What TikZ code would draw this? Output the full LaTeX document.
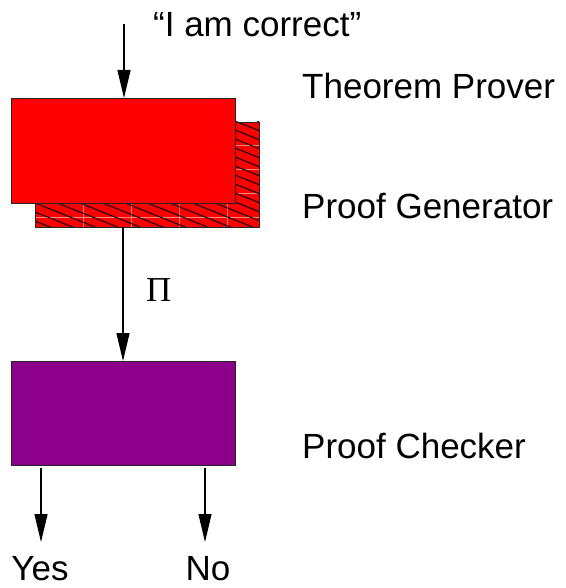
\documentclass[tikz,border=0pt]{standalone}
\usepackage{fontspec}
\setmainfont{Liberation Sans}
\newfontfamily\greekserif{Liberation Serif}
\usetikzlibrary{arrows.meta}
\definecolor{boxred}{RGB}{255,0,0}
\definecolor{boxpurple}{RGB}{139,0,139}
\definecolor{seam}{RGB}{255,130,130}
\tikzset{
  box/.style={draw=black!85, line width=0.9pt, minimum width=224pt, minimum height=105pt, inner sep=0pt, outer sep=0pt},
  arr/.style={line width=1.2pt, -{Triangle[length=28pt,width=13pt]}},
  lbl/.style={inner sep=0pt, anchor=base west, font=\fontsize{35}{40}\selectfont},
  cl/.style={inner sep=0pt, anchor=base, font=\fontsize{35}{40}\selectfont},
  hatch/.style={line width=1pt, black},
  seamline/.style={line width=0.6pt, seam}
}
\begin{document}
\begin{tikzpicture}[x=1pt,y=-1pt]
\useasboundingbox (0,0) rectangle (565,588);
% back (hatched) box
\node[box, fill=boxred] (bk) at (147,174.5) {};
\begin{scope}
  \clip (bk.south west) rectangle (bk.north east);
  \foreach \x in {83,131,179,227} \draw[seamline] (\x,122) -- (\x,227);
  \foreach \y in {145,169,193,217} \draw[seamline] (35,\y) -- (259,\y);
  \foreach \i in {-12,...,13} \draw[hatch] (35,122+\i*9) -- ++(224,89.6);
\end{scope}
\node[box] (bkb) at (147,174.5) {};
% front box
\node[box, fill=boxred] (fr) at (123,150.5) {};
% checker box
\node[box, fill=boxpurple, minimum height=104pt] (pc) at (123,413) {};
% labels
\node[lbl] (q) at (153,37) {“I am correct”};
\node[lbl] (tp) at (302,99) {Theorem Prover};
\node[lbl] (pg) at (302,218) {Proof Generator};
\node[lbl] (ck) at (302,458) {Proof Checker};
\node[inner sep=0pt, anchor=base west, font=\greekserif\fontsize{35}{40}\selectfont] (pi) at (146,301) {Π};
\node[cl] (yes) at (40,580) {Yes};
\node[cl] (no) at (208,580) {No};
% connectors
\coordinate (qtop) at (124,24);
\draw[arr] (qtop) -- (qtop |- fr.north);
\draw[arr] (bk.south -| fr.south) -- (pc.north);
\coordinate (ys) at (41,468);
\coordinate (ye) at (41,542);
\coordinate (ns) at (205,468);
\coordinate (ne) at (205,542);
\draw[arr] (ys) -- (ye);
\draw[arr] (ns) -- (ne);
\end{tikzpicture}
\end{document}
